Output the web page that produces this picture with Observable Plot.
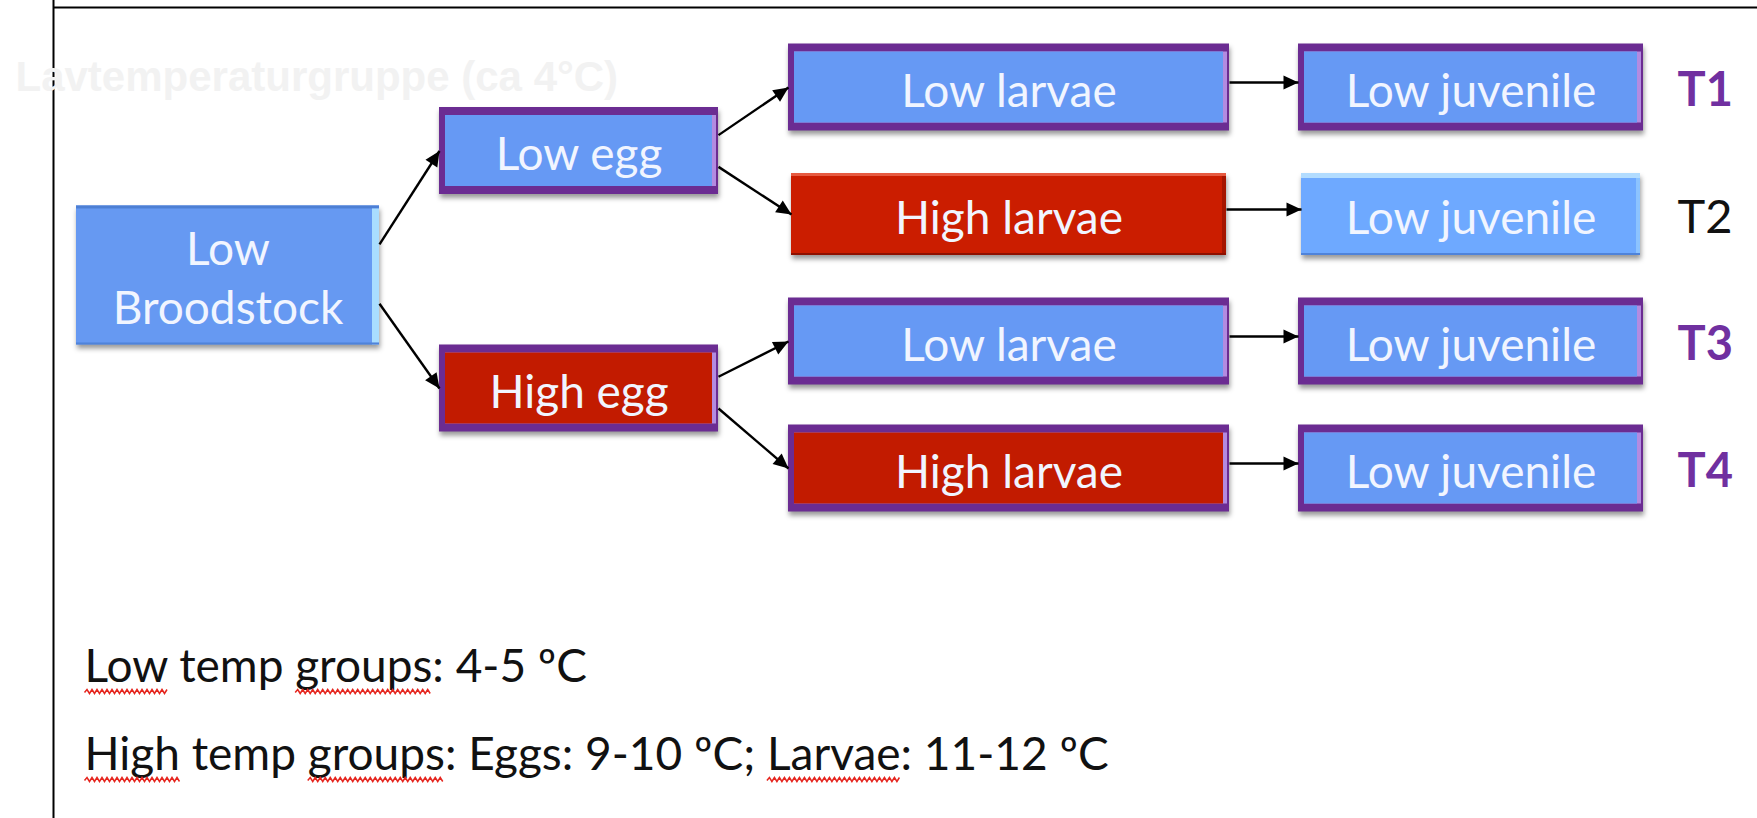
<!DOCTYPE html>
<html>
<head>
<meta charset="utf-8">
<script src="https://cdn.jsdelivr.net/npm/d3@7"></script>
<script src="https://cdn.jsdelivr.net/npm/@observablehq/plot@0.6"></script>
<style>
  html, body { margin: 0; padding: 0; background: #fff; overflow: hidden; }
</style>
</head>
<body>
<div id="chart"></div>
<script>
// ---------------- data ----------------
const stages = ["Broodstock", "Egg", "Larvae", "Juvenile"];
const nodeStage = ["Broodstock", "Egg", "Egg", "Larvae", "Larvae", "Larvae", "Larvae", "Juvenile", "Juvenile", "Juvenile", "Juvenile"];
const nodeLane = [1.48, 0.5, 2.37, 0, 1, 2, 3, 0, 1, 2, 3];
const nodeTemp = ["Low", "Low", "High", "Low", "High", "Low", "High", "Low", "Low", "Low", "Low"];
const nodeLabel = ["Low\nBroodstock", "Low egg", "High egg", "Low larvae", "High larvae", "Low larvae", "High larvae",
                   "Low juvenile", "Low juvenile", "Low juvenile", "Low juvenile"];
const nodeFramed = [false, true, true, true, false, true, true, true, false, true, true];
const linkFrom = [0, 0, 1, 1, 2, 2, 3, 4, 5, 6];
const linkTo   = [1, 2, 3, 4, 5, 6, 7, 8, 9, 10];
const treatments = ["T1", "T2", "T3", "T4"];
const treatmentLane = [0, 1, 2, 3];
const treatmentBold = [true, false, true, true];
const titleText = "Lavtemperaturgruppe (ca 4°C)";
const notes = ["Low temp groups: 4-5 ºC", "High temp groups: Eggs: 9-10 ºC; Larvae: 11-12 ºC"];
const flaggedWords = [["Low", "groups"], ["High", "groups", "Larvae"]];

// ---------------- layout / style ----------------
const W = 1757, H = 818;
const laneRange = [87, 468];
const pxPerLane = (laneRange[1] - laneRange[0]) / 3;
const toLane = px => (px - laneRange[0]) / pxPerLane;
const colExtent = {Broodstock: [76, 379], Egg: [439, 718], Larvae: [788, 1229], Juvenile: [1298, 1643]};
const tempFill = {Low: "#6699f4", High: "#c21b00"};
const purple = "#6b2c92", lavender = "#b38be0";
const shadowColor = "#000001";
const font = "Lato, 'Open Sans', sans-serif";

const nodes = nodeStage.map((s, i) => {
  const [a, b] = colExtent[s];
  const framed = nodeFramed[i];
  const hPx = s === "Broodstock" ? 139 : framed ? 87 : 82;
  const inset = (!framed && s !== "Broodstock") ? 3 : 0;
  const h = hPx / pxPerLane;
  return {i, stage: s, temp: nodeTemp[i], label: nodeLabel[i], framed,
          x1: a + inset, x2: b - inset, y1: nodeLane[i] - h / 2, y2: nodeLane[i] + h / 2,
          cx: (a + b) / 2, lane: nodeLane[i], hPx, wPx: b - a - 2 * inset};
});
const framedNodes = nodes.filter(d => d.framed);
const plainNodes = nodes.filter(d => !d.framed);

const links = linkFrom.map((f, k) => {
  const s = nodes[f], t = nodes[linkTo[k]];
  const same = s.lane === t.lane;
  return {
    x1: s.x2, x2: t.x1,
    y1: same ? s.lane - 5 / pxPerLane : s.lane + 0.25 * (t.lane - s.lane),
    y2: same ? t.lane - 5 / pxPerLane : t.lane
  };
});

const treat = treatments.map((t, i) => ({t, lane: treatmentLane[i], bold: treatmentBold[i]}));
const noteRows = notes.map((n, i) => ({n, lane: toLane([681, 769][i])}));

const box = {x1: "x1", x2: "x2", y1: "y1", y2: "y2"};

// styling of the un-framed boxes (bevel strips)
function plainMarks(d) {
  const isRed = d.temp === "High";
  const isBrood = d.stage === "Broodstock";
  const base = isRed ? "#cb1d00" : isBrood ? "#6699f2" : "#6ea9ff";
  const top = isRed ? "#e65a40" : isBrood ? "#4d7fd4" : "#b2dcff";
  const topW = isRed ? 3 : isBrood ? 3 : 5;
  const right = isRed ? "#a51500" : isBrood ? "#a9ddff" : "#8cc3ff";
  const rightW = isBrood ? 7 : 4;
  const bottom = isRed ? "#8e1000" : "#4f83da";
  return [
    Plot.rect([d], {...box, fill: base}),
    Plot.rect([d], {...box, fill: top, insetBottom: d.hPx - topW}),
    Plot.rect([d], {...box, fill: right, insetLeft: d.wPx - rightW, insetTop: topW}),
    Plot.rect([d], {...box, fill: bottom, insetTop: d.hPx - 2})
  ];
}

const chart = Plot.plot({
  width: W,
  height: H,
  margin: 0,
  x: {domain: [0, W], range: [0, W], axis: null},
  y: {domain: [0, 3], range: laneRange, axis: null},
  style: {background: "#fff"},
  marks: [
    // page frame
    Plot.ruleX([53], {stroke: "#000", strokeWidth: 2}),
    Plot.ruleY([toLane(7)], {x1: 53, x2: W, stroke: "#000", strokeWidth: 2}),
    // faint title
    Plot.text([titleText], {x: 15, y: toLane(90), text: d => d, textAnchor: "start", lineAnchor: "bottom",
      fontFamily: "'Liberation Sans', Arial, sans-serif", fontWeight: "bold", fontSize: 42, fill: "#f2f2f2"}),
    // shadows
    Plot.rect(nodes, {...box, fill: shadowColor, fillOpacity: 0.4, dy: 4, dx: 1}),
    // framed boxes
    Plot.rect(framedNodes, {...box, fill: purple}),
    Plot.rect(framedNodes, {...box, fill: lavender, insetTop: 8, insetBottom: 8, insetLeft: 6, insetRight: 2}),
    Plot.rect(framedNodes, {...box, fill: d => tempFill[d.temp], insetTop: 8, insetBottom: 8, insetLeft: 6, insetRight: 6}),
    // plain boxes
    ...plainNodes.flatMap(plainMarks),
    // arrows
    Plot.link(links, {x1: "x1", y1: "y1", x2: "x2", y2: "y2", stroke: "#000", strokeWidth: 2.4, markerEnd: "arrow"}),
    // box labels
    Plot.text(nodes, {x: "cx", y: "lane", text: "label", fill: "#f1f5ff", fontSize: 46, fontFamily: font, lineHeight: 1.3}),
    // treatment labels
    Plot.text(treat.filter(d => d.bold), {x: 1677, y: "lane", text: "t", textAnchor: "start", dy: 3,
      fontSize: 47, fontWeight: "bold", fontFamily: font, fill: "#7030a0"}),
    Plot.text(treat.filter(d => !d.bold), {x: 1677, y: "lane", text: "t", textAnchor: "start", dy: 3,
      fontSize: 47, fontFamily: font, fill: "#111"}),
    // notes
    Plot.text(noteRows, {x: 84, y: "lane", text: "n", textAnchor: "start", lineAnchor: "bottom",
      fontSize: 46, fontFamily: font, fill: "#111"})
  ]
});
document.getElementById("chart").appendChild(chart);

const NS = "http://www.w3.org/2000/svg";

// blurred drop shadows
const defs = document.createElementNS(NS, "defs");
const filt = document.createElementNS(NS, "filter");
filt.setAttribute("id", "box-shadow-blur");
filt.setAttribute("x", "-10%"); filt.setAttribute("y", "-30%");
filt.setAttribute("width", "120%"); filt.setAttribute("height", "160%");
const blur = document.createElementNS(NS, "feGaussianBlur");
blur.setAttribute("stdDeviation", "2.5");
filt.appendChild(blur); defs.appendChild(filt);
chart.insertBefore(defs, chart.firstChild);
chart.querySelectorAll("g").forEach(g => {
  if ((g.getAttribute("fill") || "").toLowerCase() === shadowColor) g.setAttribute("filter", "url(#box-shadow-blur)");
});

// filled arrow heads
chart.querySelectorAll("marker").forEach(m => {
  m.setAttribute("markerUnits", "userSpaceOnUse");
  m.setAttribute("viewBox", "-17 -8 18 16");
  m.setAttribute("markerWidth", "18");
  m.setAttribute("markerHeight", "16");
  m.setAttribute("refX", "0");
  m.setAttribute("refY", "0");
  m.setAttribute("fill", "#000");
  m.setAttribute("stroke", "none");
  const p = m.querySelector("path");
  if (p) p.setAttribute("d", "M-15,-7L0,0L-15,7Z");
});

// red spell-check squiggles under flagged words
chart.querySelectorAll("text").forEach(t => {
  const i = notes.indexOf(t.textContent);
  if (i < 0) return;
  const s = t.textContent;
  let from = 0;
  flaggedWords[i].forEach(w => {
    const idx = s.indexOf(w, from);
    if (idx < 0) return;
    from = idx + w.length;
    const p0 = t.getStartPositionOfChar(idx);
    const p1 = t.getEndPositionOfChar(idx + w.length - 1);
    let d = `M${p0.x},${p0.y + 11}`;
    let up = true;
    for (let x = p0.x + 2.5; x <= p1.x; x += 2.5) {
      d += `L${x},${p0.y + (up ? 8 : 12)}`;
      up = !up;
    }
    const path = document.createElementNS(NS, "path");
    path.setAttribute("d", d);
    path.setAttribute("fill", "none");
    path.setAttribute("stroke", "#e5261f");
    path.setAttribute("stroke-width", "1.5");
    const tf = t.getAttribute("transform");
    if (tf) path.setAttribute("transform", tf);
    t.parentNode.appendChild(path);
  });
});
</script>
</body>
</html>
